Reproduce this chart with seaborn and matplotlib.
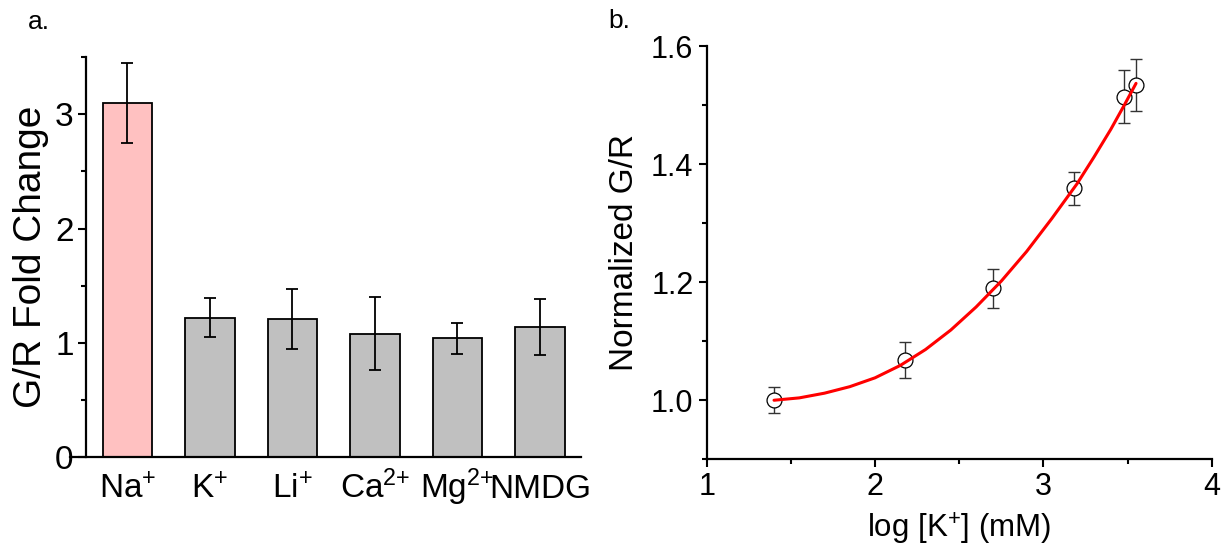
import matplotlib
matplotlib.use("Agg")
import matplotlib.pyplot as plt
import matplotlib.transforms as mtransforms
from matplotlib.ticker import MultipleLocator, FormatStrFormatter
import seaborn as sns
import pandas as pd

# ---------------- data ----------------
ions = [r"$\mathregular{Na^{{+}}}$", r"$\mathregular{K^{{+}}}$", r"$\mathregular{Li^{{+}}}$",
        r"$\mathregular{Ca^{2{+}}}$", r"$\mathregular{Mg^{2{+}}}$", "NMDG"]
fold_change = [3.10, 1.22, 1.21, 1.08, 1.04, 1.135]
fold_err = [0.35, 0.17, 0.26, 0.32, 0.135, 0.245]
bar_colors = ["#FFC1C1", "#C0C0C0", "#C0C0C0", "#C0C0C0", "#C0C0C0", "#C0C0C0"]

log_k = [1.40, 2.18, 2.70, 3.18, 3.48, 3.55]
norm_gr = [1.000, 1.068, 1.190, 1.359, 1.514, 1.534]
norm_err = [0.022, 0.030, 0.033, 0.028, 0.045, 0.044]

fit_x = [1.40, 1.55, 1.70, 1.85, 2.00, 2.15, 2.30, 2.45, 2.60, 2.75, 2.90,
         3.05, 3.20, 3.30, 3.40, 3.48, 3.55]
fit_y = [1.000, 1.004, 1.012, 1.023, 1.038, 1.059, 1.086, 1.119, 1.158, 1.202,
         1.252, 1.308, 1.367, 1.412, 1.459, 1.500, 1.537]

# ---------------- style ----------------
sns.set_theme(style="ticks")
plt.rcParams["font.family"] = ["Liberation Sans", "DejaVu Sans"]
plt.rcParams["mathtext.fontset"] = "custom"
plt.rcParams["mathtext.rm"] = "Liberation Sans"
plt.rcParams["axes.edgecolor"] = "black"
plt.rcParams["xtick.color"] = "black"
plt.rcParams["ytick.color"] = "black"
plt.rcParams["text.color"] = "black"
plt.rcParams["axes.labelcolor"] = "black"

fig = plt.figure(figsize=(12.29, 5.5), dpi=100)
fig.patch.set_facecolor("white")

# ---------------- panel a ----------------
ax1 = fig.add_axes([0.070, 0.169, 0.403, 0.727])
df_a = pd.DataFrame({"ion": ions, "fc": fold_change})
sns.barplot(data=df_a, x="ion", y="fc", hue="ion", palette=bar_colors,
            legend=False, width=0.6, edgecolor="black", linewidth=1.3,
            ax=ax1, errorbar=None, saturation=1)
ax1.errorbar(ions, fold_change, yerr=fold_err, fmt="none", ecolor="black",
             elinewidth=1.3, capsize=4, capthick=1.3, zorder=5)
ax1.set_xlim(-0.5, 5.5)
ax1.set_ylim(0, 3.5)
ax1.yaxis.set_major_locator(MultipleLocator(1))
ax1.yaxis.set_minor_locator(MultipleLocator(0.5))
ax1.set_xlabel("")
ax1.set_ylabel("G/R Fold Change", fontsize=28, labelpad=4)
ax1.tick_params(axis="y", which="major", direction="out", length=6, width=1.5,
                labelsize=24, pad=3)
ax1.tick_params(axis="y", which="minor", direction="out", length=3.5, width=1.5)
# category labels drawn on a common baseline (as in the original)
ax1.tick_params(axis="x", which="both", length=0, labelbottom=False)
trans = mtransforms.blended_transform_factory(ax1.transData, ax1.transAxes)
for pos, lab in zip(ax1.get_xticks(), ions):
    ax1.text(pos, -0.102, lab, transform=trans, ha="center", va="baseline",
             fontsize=24)
for s in ["top", "right"]:
    ax1.spines[s].set_visible(False)
for s in ["left", "bottom"]:
    ax1.spines[s].set_linewidth(1.6)
ax1.spines["bottom"].set_bounds(-0.7, 5.5)
ax1.set_xlim(-0.5, 5.5)
ax1.spines["bottom"].set_clip_on(False)
fig.text(0.023, 0.96, "a.", fontsize=19, ha="left", va="center")

# ---------------- panel b ----------------
ax2 = fig.add_axes([0.575, 0.165, 0.411, 0.751])
ax2.errorbar(log_k, norm_gr, yerr=norm_err, fmt="none", ecolor="#333333",
             elinewidth=1.0, capsize=4, capthick=1.0, zorder=2)
sns.scatterplot(x=log_k, y=norm_gr, marker="o", s=115, facecolor="white",
                edgecolor="black", linewidth=0.9, ax=ax2, zorder=3)
sns.lineplot(x=fit_x, y=fit_y, color="#FF0000", linewidth=2.2, ax=ax2,
             zorder=4, sort=True)
ax2.set_xlim(1, 4)
ax2.set_ylim(0.9, 1.6)
ax2.xaxis.set_major_locator(MultipleLocator(1))
ax2.xaxis.set_minor_locator(MultipleLocator(0.5))
ax2.yaxis.set_major_locator(MultipleLocator(0.2))
ax2.yaxis.set_minor_locator(MultipleLocator(0.1))
ax2.yaxis.set_major_formatter(FormatStrFormatter("%.1f"))
ax2.set_xlabel(r"log [K$\mathregular{^{{+}}}$] (mM)", fontsize=22.5, labelpad=6)
ax2.set_ylabel("Normalized G/R", fontsize=24, labelpad=8)
ax2.tick_params(which="major", direction="out", length=6, width=1.5,
                labelsize=22)
ax2.tick_params(which="minor", direction="out", length=3.5, width=1.5)
for s in ["top", "right"]:
    ax2.spines[s].set_visible(False)
for s in ["left", "bottom"]:
    ax2.spines[s].set_linewidth(1.6)
fig.text(0.495, 0.962, "b.", fontsize=19, ha="left", va="center")

fig.savefig("out.png", dpi=100, facecolor="white")
